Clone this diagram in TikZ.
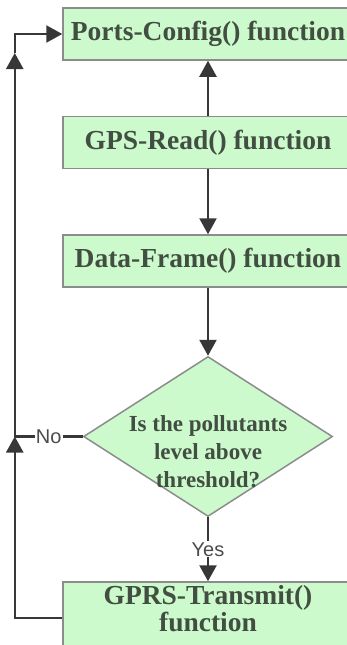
\documentclass[tikz,border=0pt]{standalone}
\usepackage{fontspec}
\setmainfont{Liberation Serif}
\newfontfamily\lblfont{Liberation Sans}
\usetikzlibrary{arrows.meta,positioning,shapes.geometric}
\definecolor{boxgreen}{RGB}{204,250,204}
\definecolor{boxtext}{RGB}{66,78,66}
\definecolor{linegray}{RGB}{55,55,55}
\definecolor{bordergray}{RGB}{140,140,140}

\begin{document}
\begin{tikzpicture}[
  x=1pt, y=1pt,
  node distance=55pt,
  block/.style={rectangle, draw=bordergray, line width=1.5pt, fill=boxgreen,
    minimum width=290pt, minimum height=52pt, inner sep=3pt, align=center,
    text=boxtext, font=\fontsize{27.5}{27}\selectfont\bfseries},
  decision/.style={diamond, draw=bordergray, line width=1.5pt, fill=boxgreen,
    inner sep=0pt, minimum width=249pt, minimum height=160pt},
  dectext/.style={align=center, text=boxtext, inner sep=0pt,
    font=\fontsize{23}{28}\selectfont\bfseries},
  lbl/.style={fill=white, inner sep=1pt, text=linegray!90,
    font=\lblfont\fontsize{20}{20}\selectfont},
  arr/.style={draw=linegray, line width=2.4pt, -{Triangle[length=16pt,width=17pt]}},
  line/.style={draw=linegray, line width=2.4pt}
]
\useasboundingbox (0,0) rectangle (346,-645);

% Top
\node[block] (ports) at (208,-34) {Ports-Config() function};
\node[block, below=55pt of ports] (gps) {GPS-Read() function};
\node[block, below=65pt of gps] (data) {Data-Frame() function};

% Decision
\node[decision, below=68pt of data] (dec) {};
\node[dectext] (dectxt) at ([yshift=-15pt]dec.center) {Is the pollutants\\level above\\threshold?};

% Bottom
\node[block, below=64pt of dec, minimum height=72pt, text depth=20pt] (gprs) {GPRS-Transmit()\\function};

% Loop back
\coordinate[left=68pt of dec.west] (jn);
\coordinate (corner) at (ports.west -| jn);
\coordinate[below=19pt of corner] (up);

\draw[arr] (gps) -- (ports);
\draw[arr] (gps) -- (data);
\draw[arr] (data) -- (dec);
\draw[arr] (dec) -- node[lbl] {Yes} (gprs);
\draw[line] (dec.west) -- node[lbl] {No} (jn);
\draw[arr] (gprs.west) -| (jn);
\draw[arr] (jn) -- (up);
\draw[arr] (up) |- (ports.west);

\end{tikzpicture}
\end{document}
